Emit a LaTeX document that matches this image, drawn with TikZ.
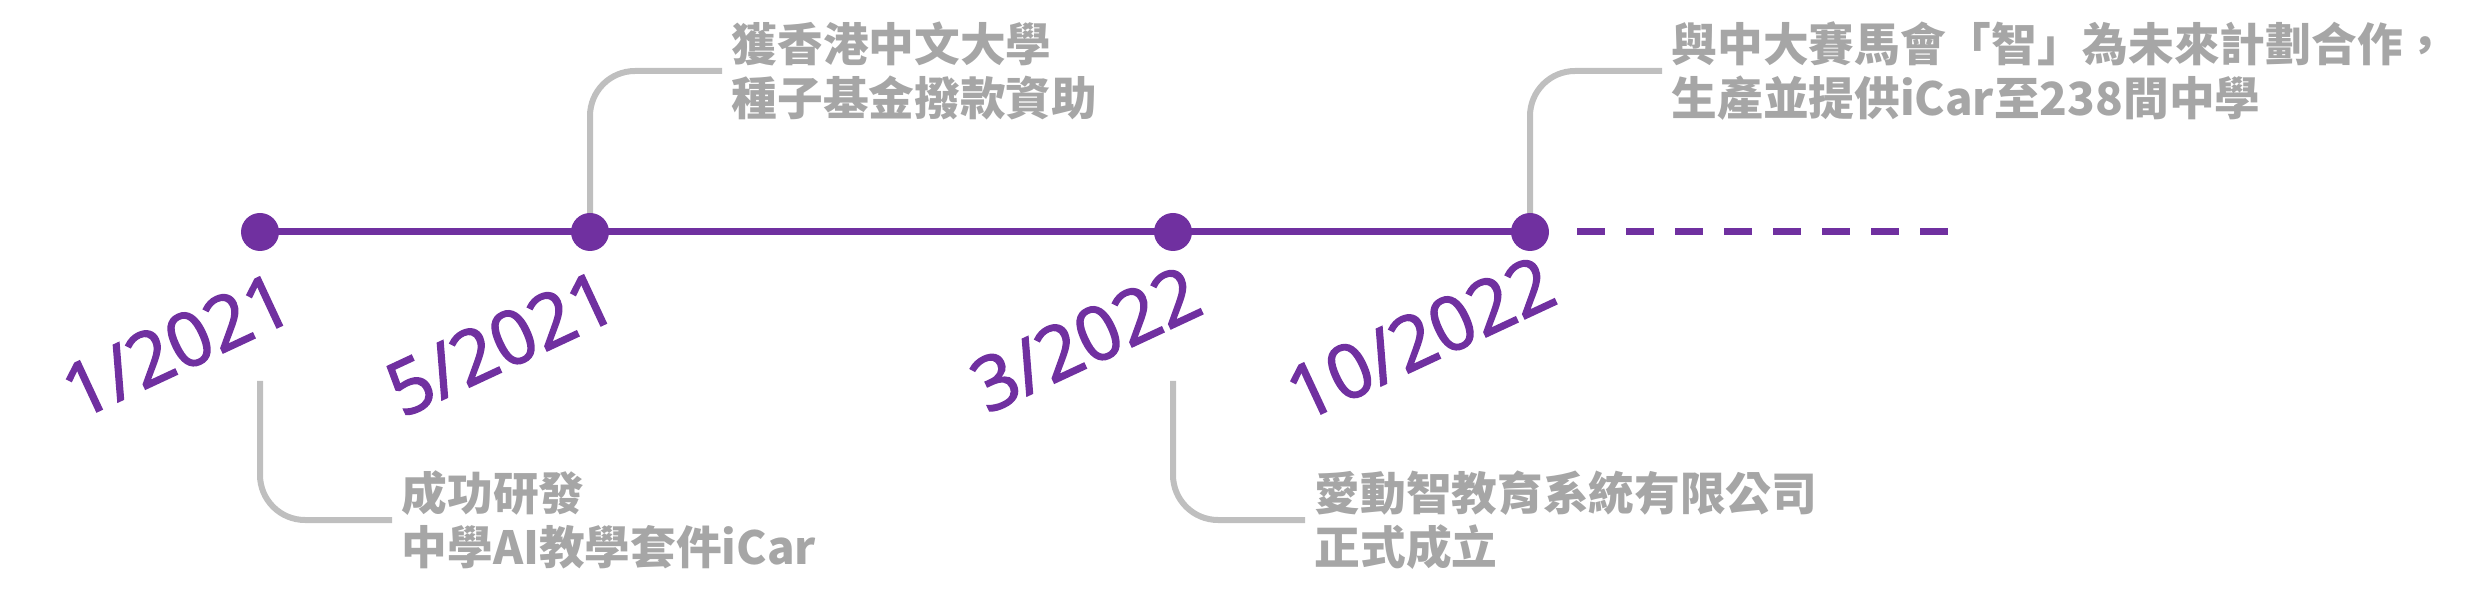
\documentclass[tikz,border=0pt]{standalone}
\usepackage{fontspec}
\newfontfamily\cjkfont{Noto Sans CJK TC}
\newfontfamily\datefont{Open Sans}[FakeBold=2]
\usetikzlibrary{calc}
\definecolor{tlPurple}{RGB}{112,48,160}
\definecolor{tlLine}{RGB}{191,191,191}
\definecolor{tlText}{RGB}{166,166,166}

\begin{document}
\begin{tikzpicture}[
  dot/.style={circle, fill=tlPurple, inner sep=0pt, minimum size=0.38cm},
  datelbl/.style={tlPurple, font=\datefont\fontsize{21.3}{24}\selectfont, rotate=25, anchor=base east, inner sep=0pt},
  evt/.style={tlText, font=\cjkfont\bfseries\fontsize{13}{15.5}\selectfont, align=left, anchor=west, inner xsep=0.09cm, inner ysep=0pt},
  conn/.style={tlLine, line width=0.06cm, rounded corners=0.45cm}]
\useasboundingbox (0,0) rectangle (24.73,6.03);
% timeline points (1px = 0.01cm)
\foreach \n/\x in {1/2.60,2/5.90,3/11.73,4/15.30}
  \coordinate (p\n) at (\x,3.71);
\coordinate (dstart) at ($(p4)+(0.47,0)$);
\coordinate (pend) at (19.53,3.71);
% events above the line
\node[evt] (t2) at ($(p2)+(1.32,1.61)$) {獲香港中文大學\\種子基金撥款資助};
\node[evt] (t4) at ($(p4)+(1.32,1.61)$) {與中大賽馬會「智」為未來計劃合作，\\生產並提供iCar至238間中學};
% events below the line
\coordinate (q1) at ($(p1)+(0,-1.49)$);
\coordinate (q3) at ($(p3)+(0,-1.49)$);
\node[evt] (t1) at ($(q1)+(1.32,-1.39)$) {成功研發\\中學AI教學套件iCar};
\node[evt] (t3) at ($(q3)+(1.32,-1.39)$) {愛動智教育系統有限公司\\正式成立};
% connectors
\draw[conn] (p2) |- (t2.west);
\draw[conn] (p4) |- (t4.west);
\draw[conn] (q1) |- (t1.west);
\draw[conn] (q3) |- (t3.west);
% the line, solid then dashed
\draw[tlPurple, line width=0.07cm] (p1) -- (p4);
\draw[tlPurple, line width=0.07cm, dash pattern=on 0.28cm off 0.21cm] (dstart) -- (pend);
\foreach \n in {1,...,4}
  \node[dot] (d\n) at (p\n) {};
% dates
\node[datelbl] (l1) at ($(p1)+(0.38,-0.86)$) {1/2021};
\node[datelbl] (l2) at ($(p2)+(0.32,-0.84)$) {5/2021};
\node[datelbl] (l3) at ($(p3)+(0.34,-0.80)$) {3/2022};
\node[datelbl] (l4) at ($(p4)+(0.31,-0.70)$) {10/2022};
\end{tikzpicture}
\end{document}
